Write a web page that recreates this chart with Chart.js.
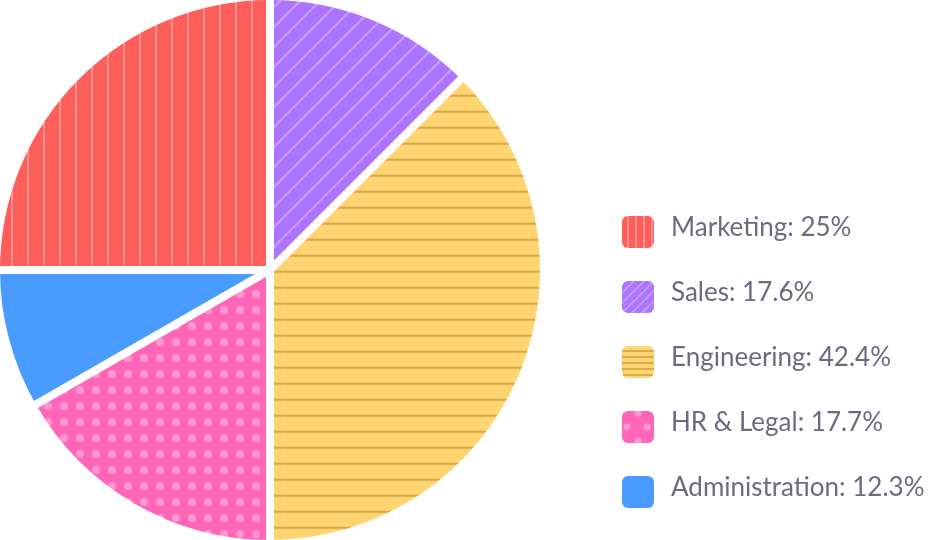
<!DOCTYPE html>
<html>
<head>
<meta charset="utf-8">
<script src="https://cdn.jsdelivr.net/npm/chart.js@4.4.1/dist/chart.umd.min.js"></script>
<style>
  html, body { margin: 0; padding: 0; background: #ffffff; overflow: hidden; width: 930px; height: 540px; }
  #c { display: block; margin-left: -39px; }
</style>
</head>
<body>
<canvas id="c" width="969" height="540"></canvas>
<script>
// ---- data ----
const categories = ['Marketing', 'Sales', 'Engineering', 'HR & Legal', 'Administration'];
const sliceShares = [25, 12.5, 37.5, 16.7, 8.3];          // slice sizes as drawn (angles)
const legendPercents = ['25%', '17.6%', '42.4%', '17.7%', '12.3%']; // text printed in legend
const baseColors = ['#ff5e5b', '#ad74ff', '#ffd571', '#ff66b8', '#4a9bff'];
const patternKinds = ['vertical', 'diagonal', 'horizontal', 'dots', 'none'];

const CANVAS_SHIFT = 39; // canvas starts 39px left of the page edge
const canvas = document.getElementById('c');
const mainCtx = canvas.getContext('2d');

const LIGHT = 'rgba(255,255,255,0.32)';
const DARK = 'rgba(150,100,10,0.4)';

function tile(w, h, drawFn) {
  const t = document.createElement('canvas');
  t.width = w; t.height = h;
  drawFn(t.getContext('2d'), w, h);
  return t;
}

function slicePattern(i) {
  const col = baseColors[i];
  const kind = patternKinds[i];
  if (kind === 'none') return col;
  let t, dx = 0, dy = 0;
  if (kind === 'vertical') {
    t = tile(16, 16, (g) => { g.fillStyle = col; g.fillRect(0, 0, 16, 16); g.fillStyle = LIGHT; g.fillRect(7, 0, 2, 16); });
    dx = 12 + CANVAS_SHIFT - 8;
  } else if (kind === 'diagonal') {
    t = tile(20, 20, (g) => {
      g.fillStyle = col; g.fillRect(0, 0, 20, 20);
      g.strokeStyle = LIGHT; g.lineWidth = 2;
      for (let k = -1; k <= 1; k++) { g.beginPath(); g.moveTo(k * 20 - 5, 25); g.lineTo(k * 20 + 25, -5); g.stroke(); }
    });
  } else if (kind === 'horizontal') {
    t = tile(16, 16, (g) => { g.fillStyle = col; g.fillRect(0, 0, 16, 16); g.fillStyle = DARK; g.fillRect(0, 7, 16, 2); });
    dy = 7.7;
  } else if (kind === 'dots') {
    t = tile(16, 16, (g) => { g.fillStyle = col; g.fillRect(0, 0, 16, 16); g.fillStyle = LIGHT; g.beginPath(); g.arc(8, 8, 4, 0, Math.PI * 2); g.fill(); });
    dx = CANVAS_SHIFT - 8; dy = -2;
  }
  const p = mainCtx.createPattern(t, 'repeat');
  if (dx || dy) p.setTransform(new DOMMatrix().translate(dx, dy));
  return p;
}

// legend swatch: 32x32 rounded box, drawn 4px below the item's centre line
function legendIcon(i) {
  const s = 32, top = 8;
  const col = baseColors[i];
  const kind = patternKinds[i];
  return tile(s, s + top, (g) => {
    g.translate(0, top);
    g.beginPath(); g.roundRect(0, 0, s, s, 6); g.clip();
    g.fillStyle = col; g.fillRect(0, 0, s, s);
    if (kind === 'vertical') {
      g.fillStyle = LIGHT;
      [6, 14, 22, 30].forEach(x => g.fillRect(x - 1, 0, 2, s));
    } else if (kind === 'diagonal') {
      g.strokeStyle = LIGHT; g.lineWidth = 1.8;
      for (let k = -4; k <= 4; k++) { g.beginPath(); g.moveTo(k * 10 - 2, s + 2); g.lineTo(k * 10 + s + 2, -2); g.stroke(); }
    } else if (kind === 'horizontal') {
      g.fillStyle = DARK;
      [5, 11, 17, 23, 29].forEach(y => g.fillRect(0, y - 0.9, s, 1.8));
    } else if (kind === 'dots') {
      g.fillStyle = LIGHT;
      [[5, 16], [25, 16], [16, 2], [16, 30]].forEach(([x, y]) => { g.beginPath(); g.arc(x, y, 3.6, 0, Math.PI * 2); g.fill(); });
    }
  });
}

const sliceFills = categories.map((_, i) => slicePattern(i));
const legendIcons = categories.map((_, i) => legendIcon(i));

// white gaps along each slice boundary, from the library's arc geometry
const gapPlugin = {
  id: 'sliceGaps',
  afterDatasetsDraw(chart) {
    const ctx = chart.ctx;
    const meta = chart.getDatasetMeta(0);
    ctx.save();
    ctx.strokeStyle = '#ffffff';
    ctx.lineWidth = 8;
    ctx.lineCap = 'butt';
    meta.data.forEach(arc => {
      const { x, y, startAngle, outerRadius } = arc.getProps(['x', 'y', 'startAngle', 'outerRadius'], true);
      ctx.beginPath();
      ctx.moveTo(x, y);
      ctx.lineTo(x + Math.cos(startAngle) * (outerRadius + 3), y + Math.sin(startAngle) * (outerRadius + 3));
      ctx.stroke();
    });
    ctx.restore();
  }
};

new Chart(canvas, {
  type: 'pie',
  data: {
    labels: categories,
    datasets: [{
      data: sliceShares,
      backgroundColor: sliceFills,
      borderWidth: 0
    }]
  },
  options: {
    responsive: false,
    animation: false,
    events: [],
    rotation: -90,
    layout: { padding: 0 },
    plugins: {
      tooltip: { enabled: false },
      legend: {
        position: 'right',
        align: 'end',
        maxWidth: 351,
        labels: {
          usePointStyle: true,
          pointStyleWidth: 40,
          boxHeight: 26,
          padding: 39,
          color: '#6b6b80',
          font: { family: 'Lato', size: 26 },
          generateLabels(chart) {
            return categories.map((name, i) => ({
              text: name + ': ' + legendPercents[i],
              pointStyle: legendIcons[i],
              fillStyle: baseColors[i],
              strokeStyle: 'rgba(0,0,0,0)',
              lineWidth: 0,
              fontColor: '#6b6b80',
              hidden: false,
              index: i
            }));
          }
        }
      }
    }
  },
  plugins: [gapPlugin]
});
</script>
</body>
</html>
